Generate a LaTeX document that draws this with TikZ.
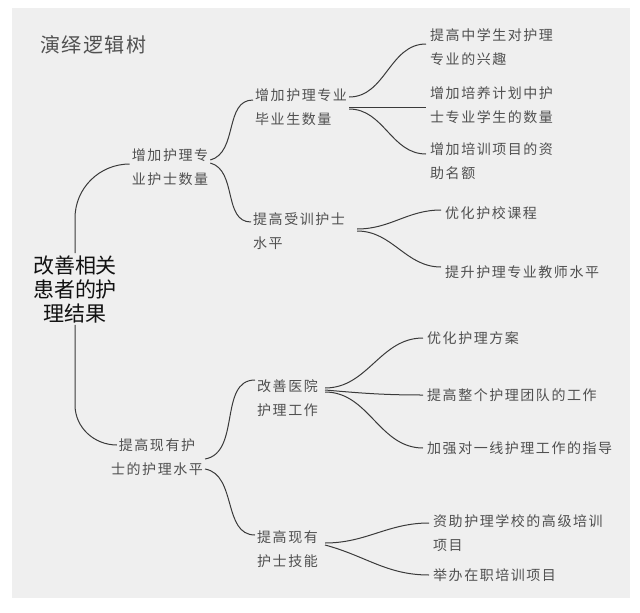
\documentclass[tikz,border=0pt]{standalone}
\usepackage{fontspec}
\usepackage{xcolor}
\usepackage{tikz}
\usetikzlibrary{positioning,calc}
\newfontfamily\treefont[LetterSpace=11]{Noto Sans CJK SC}
\newfontfamily\titlefont[LetterSpace=8]{Noto Sans CJK SC}
\newfontfamily\rootfont{Noto Sans CJK SC}
\definecolor{treepanel}{HTML}{EFEFEF}
\definecolor{treeink}{HTML}{505050}
\definecolor{treeline}{HTML}{3A3A3A}
\definecolor{treeroot}{HTML}{111111}
\tikzset{
  headline/.style={anchor=west, inner sep=2pt, text=treeink, font=\titlefont\fontsize{20}{24}\selectfont},
  rootbox/.style={align=center, inner sep=2pt, text=treeroot, font=\rootfont\fontsize{21}{24}\selectfont},
  branch/.style={align=left, inner sep=2pt, text=treeink, font=\treefont\fontsize{14}{24}\selectfont},
  leaf/.style={anchor=west, align=left, inner xsep=4pt, inner ysep=2pt, text=treeink, font=\treefont\fontsize{14}{24}\selectfont},
  link/.style={draw=treeline, line width=1pt},
}
\begin{document}
\begin{tikzpicture}[x=1pt,y=1pt]
  \useasboundingbox (0,0) rectangle (640,-613);
  \fill[treepanel] (12,-8) rectangle (630,-598);
  \node[headline] (title) at (38,-45) {演绎逻辑树};
  \node[rootbox] (root) at (75,-289) {改善相关\\患者的护\\理结果};
  % first level
  \node[branch] (grow) at (170,-167) {增加护理专\\业护士数量};
  \node[branch,align=center] (raise) at (157,-457) {提高现有护\\士的护理水平};
  % second level
  \node[branch,anchor=west] (grads) at (253,-107) {增加护理专业\\毕业生数量};
  \node[branch,anchor=west] (trained) at (251,-231) {提高受训护士\\水平};
  \node[branch,anchor=west] (hosp) at (255,-398) {改善医院\\护理工作};
  \node[branch,anchor=west] (skills) at (255,-549) {提高现有\\护士技能};
  % leaves
  \node[leaf] (interest) at (426,-47) {提高中学生对护理\\专业的兴趣};
  \node[leaf] (enrol) at (426,-105) {增加培养计划中护\\士专业学生的数量};
  \node[leaf] (funding) at (426,-161) {增加培训项目的资\\助名额};
  \node[leaf] (course) at (441,-213) {优化护校课程};
  \node[leaf] (teacher) at (441,-272) {提升护理专业教师水平};
  \node[leaf] (plan) at (423,-338) {优化护理方案};
  \node[leaf] (team) at (423,-395) {提高整个护理团队的工作};
  \node[leaf] (guide) at (423,-448) {加强对一线护理工作的指导};
  \node[leaf] (advanced) at (429,-533) {资助护理学校的高级培训\\项目};
  \node[leaf] (inservice) at (429,-575) {举办在职培训项目};
  % links
  \draw[link] (root.north) -- ++(0,35) to[out=90,in=180] ([yshift=3pt]grow.west);
  \draw[link] (root.south) -- ++(0,-80) to[out=-90,in=180] ([xshift=8pt,yshift=12pt]raise.west);
  \draw[link] ([yshift=7pt]grow.east) to[out=15,in=180] ([yshift=7pt]grads.west);
  \draw[link] ([yshift=4pt]grow.east) to[out=-15,in=180] ([yshift=9pt]trained.west);
  \draw[link] ([yshift=-2pt]raise.east) to[out=10,in=180] ([yshift=18pt]hosp.west);
  \draw[link] ([yshift=-12pt]raise.east) to[out=-10,in=180] ([yshift=14pt]skills.west);
  \draw[link] ([yshift=10pt]grads.east) to[out=0,in=180] ([yshift=3pt]interest.west);
  \draw[link] (grads.east) -- (grads.east -| enrol.west);
  \draw[link] ([yshift=-2pt]grads.east) to[out=0,in=180] ([yshift=7pt]funding.west);
  \draw[link] ([xshift=10pt,yshift=2pt]trained.east) to[out=0,in=180] ([yshift=3pt]course.west);
  \draw[link] ([xshift=10pt]trained.east) to[out=0,in=180] ([yshift=5pt]teacher.west);
  \draw[link] ([xshift=5pt,yshift=10pt]hosp.east) to[out=0,in=180] (plan.west);
  \draw[link] ([xshift=5pt,yshift=8pt]hosp.east) to[out=-5,in=180] (team.west);
  \draw[link] ([xshift=5pt,yshift=6pt]hosp.east) to[out=0,in=180] (guide.west);
  \draw[link] ([xshift=5pt,yshift=6pt]skills.east) to[out=0,in=180] ([yshift=10pt]advanced.west);
  \draw[link] ([xshift=5pt,yshift=4pt]skills.east) to[out=-15,in=180] (inservice.west);
\end{tikzpicture}
\end{document}
